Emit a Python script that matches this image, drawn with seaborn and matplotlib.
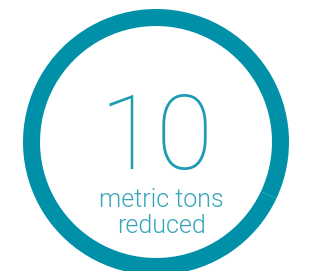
import matplotlib
matplotlib.use("Agg")
import matplotlib.pyplot as plt
import seaborn as sns

# Donut segments (share of the ring) and the headline figure
segment_values = [32, 68]
big_number = "10"
caption_lines = ["metric tons", "reduced"]

ring_color = "#0091a8"
text_color = "#1e9cb2"
caption_color = "#35a6ba"

sns.set_theme(style="white")
plt.rcParams['font.family'] = ['Roboto', 'DejaVu Sans']

W, H = 309, 271
fig = plt.figure(figsize=(W / 100, H / 100), dpi=100)
fig.patch.set_facecolor("white")

# place the ring in pixel terms: centre (156, 142 from top), radius 133
cx, cy, r = 156, 142, 133
ax = fig.add_axes([(cx - r) / W, (H - cy - r) / H, 2 * r / W, 2 * r / H])

ax.pie(
    segment_values,
    colors=[ring_color, ring_color],
    startangle=90,
    counterclock=False,
    radius=1.0,
    wedgeprops=dict(width=0.128, edgecolor="none", antialiased=True),
)
ax.set_xlim(-1, 1)
ax.set_ylim(-1, 1)
ax.set_aspect("equal")
ax.axis("off")

ax.text(0.005, -0.205, big_number, ha="center", va="baseline",
        fontsize=75, fontweight=100, color=text_color)
ax.text(0.04, -0.49, caption_lines[0], ha="center", va="baseline",
        fontsize=18, fontweight=300, color=caption_color)
ax.text(0.04, -0.685, caption_lines[1], ha="center", va="baseline",
        fontsize=18, fontweight=300, color=caption_color)

fig.savefig("out.png", dpi=100, facecolor="white")
